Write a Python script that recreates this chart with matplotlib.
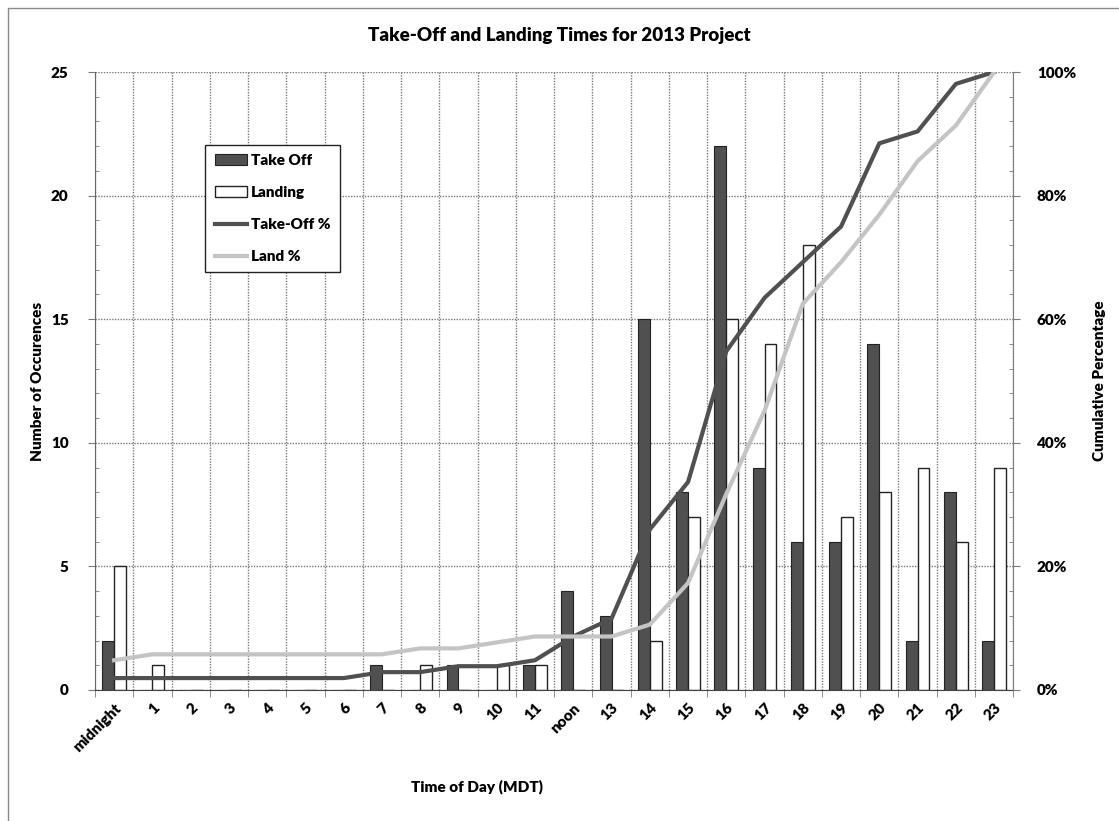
import numpy as np
import matplotlib
matplotlib.use("Agg")
import matplotlib.pyplot as plt
from matplotlib.ticker import MultipleLocator, FixedLocator, PercentFormatter
from matplotlib.patches import Rectangle

plt.rcParams['font.family'] = ['Lato', 'DejaVu Sans']
plt.rcParams['font.weight'] = 'heavy'
W = 'heavy'

# Hourly counts (MDT)
hours = ['midnight', '1', '2', '3', '4', '5', '6', '7', '8', '9', '10', '11',
         'noon', '13', '14', '15', '16', '17', '18', '19', '20', '21', '22', '23']
take_off = [2, 0, 0, 0, 0, 0, 0, 1, 0, 1, 0, 1, 4, 3, 15, 8, 22, 9, 6, 6, 14, 2, 8, 2]
landing = [5, 1, 0, 0, 0, 0, 0, 0, 1, 0, 1, 1, 0, 0, 2, 7, 15, 14, 18, 7, 8, 9, 6, 9]

take_off_pct = np.cumsum(take_off) / np.sum(take_off)
land_pct = np.cumsum(landing) / np.sum(landing)

dark = '#505050'
light = '#c4c4c4'
grid_c = '#7a7a7a'

fig = plt.figure(figsize=(11.19, 8.21), dpi=100)
ax = fig.add_axes([0.0849, 0.1596, 0.8206, 0.7527])
x = np.arange(len(hours))
w = 0.31

# gridlines under the bars
ax.set_axisbelow(True)
ax.grid(axis='y', which='major', color=grid_c, lw=1.0, ls=(0, (1, 1)))
ax.xaxis.set_minor_locator(FixedLocator(np.arange(-0.5, len(hours), 1.0)))
ax.grid(axis='x', which='minor', color=grid_c, lw=1.0, ls=(0, (1, 1)))

b1 = ax.bar(x - w / 2, take_off, w, color=dark, edgecolor='#222222', lw=0.8, label='Take Off')
b2 = ax.bar(x + w / 2, landing, w, color='white', edgecolor='#222222', lw=1.0, label='Landing')

ax.set_xlim(-0.5, len(hours) - 0.5)
ax.set_ylim(0, 25)
ax.yaxis.set_major_locator(MultipleLocator(5))
ax.yaxis.set_minor_locator(MultipleLocator(1))
ax.set_xticks(x)
ax.set_xticklabels(hours, rotation=45, ha='right', rotation_mode='anchor',
                   fontsize=11, fontweight=W)
ax.tick_params(axis='x', which='major', length=0, pad=8)
ax.tick_params(axis='x', which='minor', length=5, color=grid_c)
ax.tick_params(axis='y', which='major', length=5, pad=14, labelsize=11, color=grid_c)
ax.tick_params(axis='y', which='minor', length=3, direction='in', color=grid_c)
for s in ['top', 'right']:
    ax.spines[s].set_visible(False)
ax.spines['left'].set_color('#666666')
ax.spines['bottom'].set_color('#444444')

ax.set_ylabel('Number of Occurences', fontsize=11, fontweight=W, labelpad=5)
ax.set_xlabel('Time of Day (MDT)', fontsize=11, fontweight=W)
ax.xaxis.set_label_coords(0.416, -0.145)

# cumulative percentages on the right axis
ax2 = ax.twinx()
l1, = ax2.plot(x, take_off_pct, color=dark, lw=3, label='Take-Off %')
l2, = ax2.plot(x, land_pct, color=light, lw=3, label='Land %')
ax2.set_ylim(0, 1)
ax2.yaxis.set_major_locator(MultipleLocator(0.2))
ax2.yaxis.set_minor_locator(MultipleLocator(0.04))
ax2.yaxis.set_major_formatter(PercentFormatter(1.0, decimals=0))
ax2.tick_params(axis='y', which='major', length=5, pad=12, labelsize=11, color=grid_c)
ax2.tick_params(axis='y', which='minor', length=3, direction='in', color=grid_c)
for s in ['top', 'left', 'bottom']:
    ax2.spines[s].set_visible(False)
ax2.spines['right'].set_color(grid_c)
ax2.spines['right'].set_linestyle((0, (1, 1)))
ax2.set_ylabel('Cumulative Percentage', fontsize=11, fontweight=W, labelpad=12)

leg = ax2.legend(handles=[b1, b2, l1, l2], loc='upper left',
                 bbox_to_anchor=(0.112, 0.895), frameon=True, fancybox=False,
                 edgecolor='#222222', framealpha=1, labelspacing=1.25,
                 handlelength=2.1, handletextpad=0.3, borderpad=0.6,
                 prop={'weight': W, 'size': 11})
leg.get_frame().set_linewidth(1.0)

fig.suptitle('Take-Off and Landing Times for 2013 Project', fontsize=13.5,
             fontweight=W, x=0.5, y=0.967)

# outer chart border
fig.patches.append(Rectangle((8 / 1119, -0.01), 1.02, 1 - 8 / 821 + 0.01,
                             transform=fig.transFigure, fill=False,
                             edgecolor='#8a8a8a', lw=1.0))

fig.savefig('out.png', dpi=100)
